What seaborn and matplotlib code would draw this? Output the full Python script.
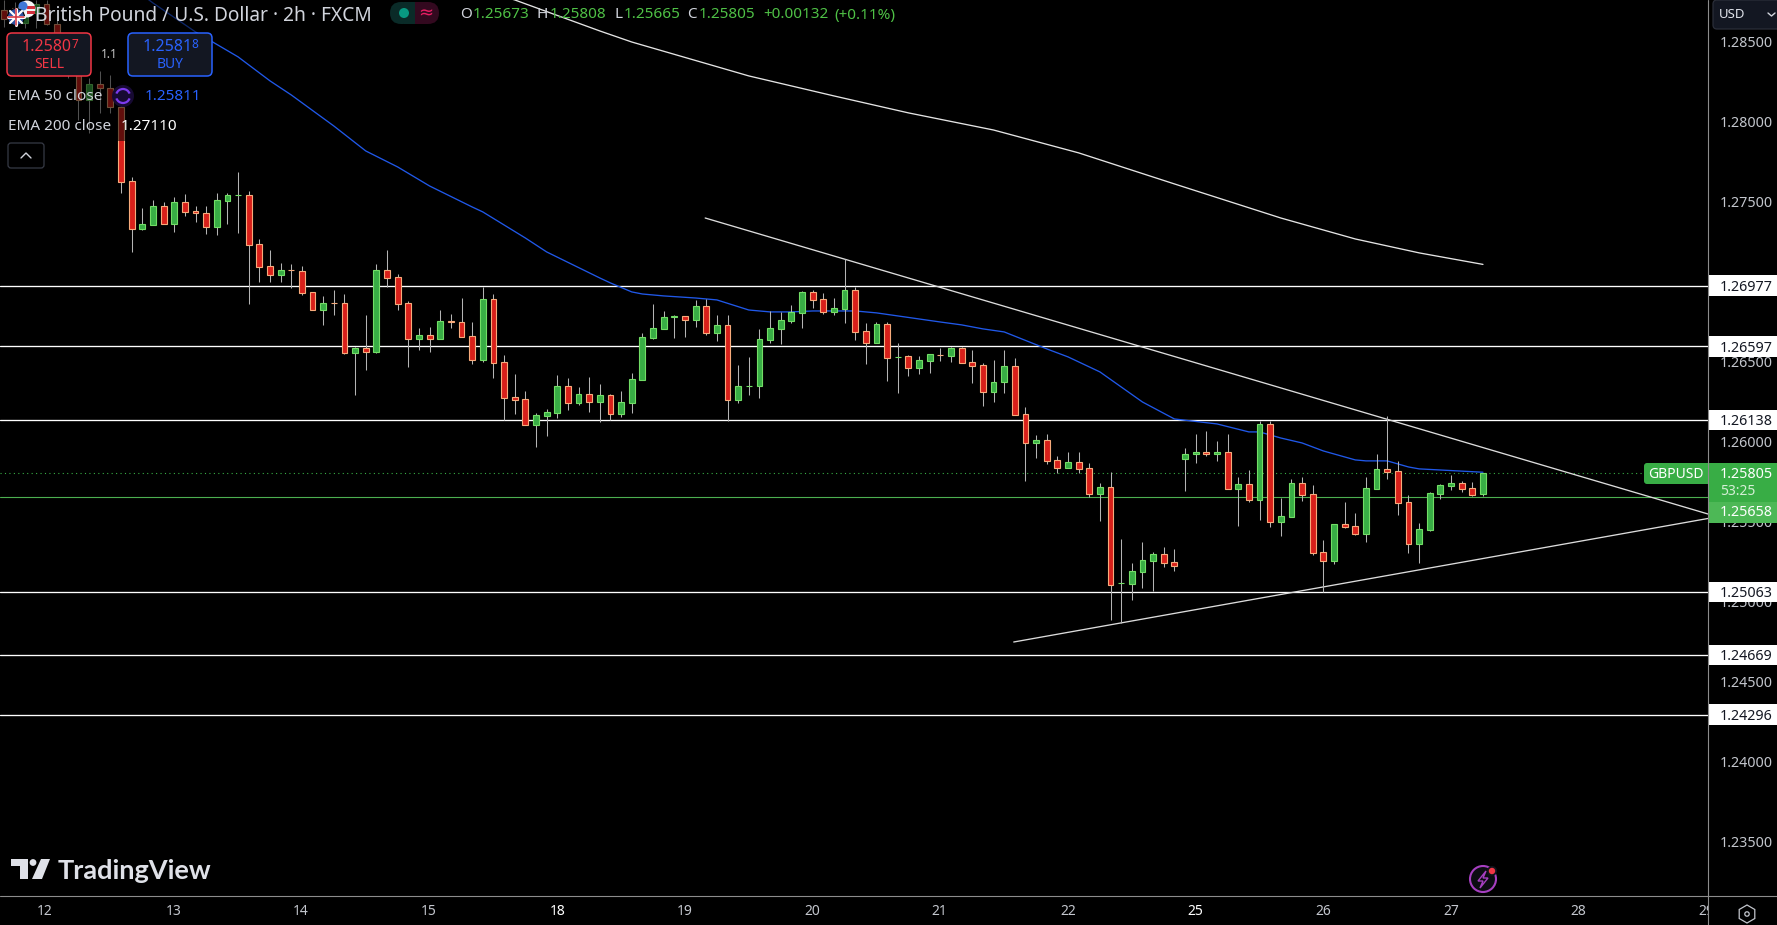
# ==========================================================
# SECTION 1 : IMPORT LIBRARIES
# ==========================================================
import numpy as np
import pandas as pd
import matplotlib
matplotlib.use("Agg")
import matplotlib.pyplot as plt
from matplotlib.patches import Arc, Circle, FancyBboxPatch, Polygon, Rectangle, RegularPolygon
from matplotlib.transforms import blended_transform_factory
import seaborn as sns

# ==========================================================
# SECTION 2 : CHART DATA
# ==========================================================
opens = [1.28700, 1.28713, 1.28619, 1.28682, 1.28738, 1.28613, 1.28482, 1.28294, 1.28138, 1.28238,
         1.28213, 1.28094, 1.27630, 1.27334, 1.27359, 1.27475, 1.27365, 1.27498, 1.27442, 1.27430,
         1.27346, 1.27509, 1.27541, 1.27542, 1.27236, 1.27099, 1.27046, 1.27075, 1.27067, 1.26936,
         1.26827, 1.26868, 1.26867, 1.26559, 1.26586, 1.26565, 1.27074, 1.27030, 1.26867, 1.26646,
         1.26667, 1.26646, 1.26756, 1.26749, 1.26661, 1.26515, 1.26892, 1.26499, 1.26280, 1.26267,
         1.26109, 1.26165, 1.26184, 1.26349, 1.26246, 1.26299, 1.26252, 1.26292, 1.26177, 1.26246,
         1.26390, 1.26652, 1.26709, 1.26784, 1.26786, 1.26765, 1.26849, 1.26684, 1.26730, 1.26265,
         1.26350, 1.26352, 1.26640, 1.26709, 1.26759, 1.26809, 1.26936, 1.26892, 1.26815, 1.26834,
         1.26949, 1.26693, 1.26621, 1.26736, 1.26530, 1.26536, 1.26465, 1.26509, 1.26546, 1.26540,
         1.26586, 1.26499, 1.26480, 1.26315, 1.26372, 1.26474, 1.26174, 1.25996, 1.26011, 1.25886,
         1.25840, 1.25874, 1.25836, 1.25677, 1.25717, 1.25117, 1.25115, 1.25190, 1.25259, 1.25299,
         1.25249, 1.25896, 1.25924, 1.25936, 1.25924, 1.25936, 1.25709, 1.25736, 1.25640, 1.26111,
         1.25502, 1.25534, 1.25742, 1.25674, 1.25311, 1.25259, 1.25486, 1.25474, 1.25427, 1.25709,
         1.25830, 1.25818, 1.25624, 1.25365, 1.25452, 1.25677, 1.25727, 1.25742, 1.25711, 1.25673]

highs = [1.28763, 1.28750, 1.28713, 1.28763, 1.28763, 1.28638, 1.28513, 1.28325, 1.28275, 1.28319,
         1.28294, 1.28113, 1.27655, 1.27461, 1.27513, 1.27500, 1.27534, 1.27550, 1.27475, 1.27475,
         1.27557, 1.27557, 1.27686, 1.27569, 1.27269, 1.27200, 1.27119, 1.27113, 1.27100, 1.26936,
         1.26913, 1.26950, 1.26925, 1.26596, 1.26794, 1.27113, 1.27200, 1.27050, 1.26882, 1.26711,
         1.26717, 1.26825, 1.26800, 1.26900, 1.26749, 1.26969, 1.26925, 1.26544, 1.26425, 1.26319,
         1.26182, 1.26207, 1.26419, 1.26400, 1.26344, 1.26407, 1.26363, 1.26300, 1.26319, 1.26432,
         1.26682, 1.26863, 1.26819, 1.26794, 1.26786, 1.26888, 1.26894, 1.26794, 1.26794, 1.26482,
         1.26532, 1.26707, 1.26819, 1.26813, 1.26857, 1.26944, 1.26950, 1.26932, 1.26900, 1.27142,
         1.26969, 1.26744, 1.26750, 1.26750, 1.26619, 1.26542, 1.26538, 1.26550, 1.26588, 1.26594,
         1.26594, 1.26575, 1.26494, 1.26513, 1.26575, 1.26525, 1.26219, 1.26044, 1.26050, 1.25913,
         1.25938, 1.25938, 1.25869, 1.25744, 1.25813, 1.25394, 1.25244, 1.25375, 1.25313, 1.25344,
         1.25332, 1.25963, 1.26050, 1.26069, 1.26007, 1.26050, 1.25782, 1.25825, 1.26132, 1.26132,
         1.25650, 1.25769, 1.25782, 1.25732, 1.25388, 1.25488, 1.25625, 1.25557, 1.25782, 1.25925,
         1.26163, 1.25882, 1.25669, 1.25494, 1.25688, 1.25738, 1.25794, 1.25757, 1.25750, 1.25808]

lows = [1.28594, 1.28625, 1.28588, 1.28588, 1.28607, 1.28451, 1.28275, 1.28013, 1.27932, 1.28057,
        1.28057, 1.27557, 1.27190, 1.27325, 1.27359, 1.27365, 1.27313, 1.27413, 1.27375, 1.27300,
        1.27294, 1.27363, 1.27307, 1.26863, 1.27000, 1.27000, 1.27000, 1.26963, 1.26919, 1.26827,
        1.26732, 1.26794, 1.26550, 1.26294, 1.26450, 1.26559, 1.26971, 1.26825, 1.26469, 1.26575,
        1.26563, 1.26646, 1.26713, 1.26659, 1.26488, 1.26500, 1.26400, 1.26136, 1.26175, 1.26109,
        1.25969, 1.26038, 1.26150, 1.26200, 1.26232, 1.26188, 1.26125, 1.26136, 1.26159, 1.26182,
        1.26390, 1.26646, 1.26709, 1.26650, 1.26657, 1.26719, 1.26669, 1.26632, 1.26132, 1.26244,
        1.26294, 1.26275, 1.26619, 1.26613, 1.26746, 1.26713, 1.26838, 1.26802, 1.26794, 1.26744,
        1.26638, 1.26488, 1.26621, 1.26382, 1.26307, 1.26413, 1.26425, 1.26432, 1.26507, 1.26500,
        1.26496, 1.26369, 1.26225, 1.26250, 1.26307, 1.26171, 1.25757, 1.25900, 1.25863, 1.25807,
        1.25840, 1.25807, 1.25655, 1.25507, 1.24888, 1.24869, 1.25013, 1.25088, 1.25069, 1.25219,
        1.25194, 1.25694, 1.25869, 1.25913, 1.25882, 1.25709, 1.25475, 1.25625, 1.25513, 1.25469,
        1.25413, 1.25534, 1.25632, 1.25294, 1.25063, 1.25238, 1.25463, 1.25419, 1.25375, 1.25709,
        1.25769, 1.25544, 1.25307, 1.25244, 1.25446, 1.25644, 1.25700, 1.25688, 1.25663, 1.25665]

closes = [1.28644, 1.28675, 1.28669, 1.28738, 1.28613, 1.28482, 1.28294, 1.28138, 1.28238, 1.28213,
          1.28094, 1.27625, 1.27334, 1.27361, 1.27475, 1.27365, 1.27500, 1.27440, 1.27430, 1.27346,
          1.27511, 1.27542, 1.27543, 1.27234, 1.27096, 1.27046, 1.27074, 1.27073, 1.26934, 1.26827,
          1.26867, 1.26866, 1.26559, 1.26588, 1.26565, 1.27074, 1.27027, 1.26865, 1.26646, 1.26667,
          1.26646, 1.26755, 1.26750, 1.26659, 1.26515, 1.26892, 1.26496, 1.26277, 1.26265, 1.26109,
          1.26167, 1.26186, 1.26349, 1.26246, 1.26299, 1.26252, 1.26292, 1.26177, 1.26249, 1.26392,
          1.26655, 1.26711, 1.26780, 1.26786, 1.26765, 1.26849, 1.26684, 1.26730, 1.26265, 1.26349,
          1.26352, 1.26642, 1.26711, 1.26761, 1.26811, 1.26936, 1.26890, 1.26815, 1.26836, 1.26949,
          1.26690, 1.26621, 1.26736, 1.26527, 1.26532, 1.26465, 1.26511, 1.26549, 1.26544, 1.26586,
          1.26496, 1.26477, 1.26315, 1.26374, 1.26474, 1.26171, 1.25996, 1.26011, 1.25884, 1.25840,
          1.25874, 1.25834, 1.25677, 1.25717, 1.25109, 1.25119, 1.25192, 1.25261, 1.25299, 1.25246,
          1.25227, 1.25924, 1.25936, 1.25924, 1.25936, 1.25709, 1.25736, 1.25640, 1.26111, 1.25502,
          1.25536, 1.25742, 1.25671, 1.25309, 1.25259, 1.25486, 1.25471, 1.25427, 1.25711, 1.25830,
          1.25815, 1.25621, 1.25365, 1.25455, 1.25680, 1.25730, 1.25742, 1.25709, 1.25671, 1.25805]

ema50_bars = [13, 14, 18, 22, 25, 27, 31, 34, 37, 40, 44, 45, 49, 51, 56, 57, 59, 60, 62, 65, 67, 70, 72, 74, 76,
              80, 82, 86, 88, 90, 92, 94, 98, 100, 103, 107, 110, 114, 117, 118, 120, 122, 124, 127, 128, 130,
              132, 133, 135, 139]
ema50_vals = [1.28794, 1.28744, 1.28563, 1.28407, 1.28257, 1.28169, 1.27975, 1.27819, 1.27719, 1.27600,
              1.27469, 1.27438, 1.27275, 1.27188, 1.27025, 1.26994, 1.26938, 1.26925, 1.26913, 1.26900,
              1.26888, 1.26825, 1.26813, 1.26813, 1.26819, 1.26819, 1.26807, 1.26769, 1.26750, 1.26732,
              1.26707, 1.26688, 1.26582, 1.26532, 1.26438, 1.26250, 1.26144, 1.26113, 1.26063, 1.26063,
              1.26025, 1.25994, 1.25944, 1.25888, 1.25882, 1.25882, 1.25844, 1.25832, 1.25825, 1.25811]

ema200_bars = [47, 48, 56, 59, 70, 78, 85, 93, 101, 110, 120, 127, 133, 139]
ema200_vals = [1.28782, 1.28763, 1.28569, 1.28500, 1.28288, 1.28163, 1.28057, 1.27950, 1.27807, 1.27613,
               1.27400, 1.27269, 1.27182, 1.27110]

level_prices = [1.26977, 1.26597, 1.26138, 1.25063, 1.24669, 1.24296]
pivot_price = 1.25658
last_price = 1.25805

trend_down_bars = [65.9, 160.15]
trend_down_vals = [1.27400, 1.25550]
trend_up_bars = [94.9, 160.15]
trend_up_vals = [1.24750, 1.25522]

price_ticks = [1.285, 1.280, 1.275, 1.265, 1.260, 1.255, 1.250, 1.245, 1.240, 1.235]
day_bars = [3.8, 15.9, 27.9, 39.9, 52, 64, 76, 87.9, 100, 112, 124, 136, 148, 160]
day_labels = ["12", "13", "14", "15", "18", "19", "20", "21", "22", "25", "26", "27", "28", "29"]

# ==========================================================
# SECTION 3 : COLOURS AND FIGURE
# ==========================================================
GREEN = "#38ad45"
GREEN_EDGE = "#72dd66"
RED = "#d8201a"
RED_EDGE = "#f7ab7c"
WICK = "#b4b4b4"
TEXT = "#d1d4dc"
AXIS_TEXT = "#c3c6cd"
AXIS_LINE = "#8c8c8c"
BLUE = "#2058e8"
PANEL = "#131722"

sns.set_theme(style="dark", rc={"axes.facecolor": "black", "figure.facecolor": "black"})
plt.rcParams["font.family"] = ["Noto Sans", "DejaVu Sans"]

df = pd.DataFrame({"open": opens, "high": highs, "low": lows, "close": closes})
df["bar"] = df.index

fig = plt.figure(figsize=(17.77, 9.25), dpi=100)
ax = fig.add_axes([0, 29 / 925, 1708 / 1777, 896 / 925])
ax.set_xlim(-0.376, 160.15)
ax.set_ylim(1.231625, 1.287625)
for side in ax.spines:
    ax.spines[side].set_visible(False)

# ==========================================================
# SECTION 4 : PRICE LINES AND CANDLES
# ==========================================================
for price in level_prices:
    ax.axhline(price, color="white", lw=0.95, zorder=1)
ax.axhline(pivot_price, color="#4caf50", lw=0.8, zorder=1)
ax.hlines(last_price, -0.376, 154.2, color=GREEN, lw=0.8, linestyles=(0, (1, 3)), zorder=1)

sns.lineplot(x=trend_down_bars, y=trend_down_vals, color="#dcdcdc", lw=0.95, ax=ax, zorder=1.5)
sns.lineplot(x=trend_up_bars, y=trend_up_vals, color="#dcdcdc", lw=0.95, ax=ax, zorder=1.5)
sns.lineplot(x=ema200_bars, y=ema200_vals, color="#e4e4e4", lw=0.95, ax=ax, zorder=1.6)
sns.lineplot(x=ema50_bars, y=ema50_vals, color=BLUE, lw=0.95, ax=ax, zorder=1.6)

ax.vlines(df["bar"], df["low"], df["high"], color=WICK, lw=0.75, zorder=2)
up = df[df["close"] >= df["open"]]
down = df[df["close"] < df["open"]]
ax.bar(up["bar"], up["close"] - up["open"], bottom=up["open"], width=0.55,
       color=GREEN, edgecolor=GREEN_EDGE, linewidth=0.8, zorder=3)
ax.bar(down["bar"], down["open"] - down["close"], bottom=down["close"], width=0.55,
       color=RED, edgecolor=RED_EDGE, linewidth=0.8, zorder=3)

# ==========================================================
# SECTION 5 : AXES
# ==========================================================
ax.yaxis.tick_right()
ax.set_yticks(price_ticks)
ax.set_yticklabels([f"{p:.5f}" for p in price_ticks], color=AXIS_TEXT, fontsize=10.3)
ax.set_xticks(day_bars)
ax.set_xticklabels(day_labels, color=AXIS_TEXT, fontsize=10)
ax.tick_params(axis="y", length=0, pad=8.5)
ax.tick_params(axis="x", length=0, pad=6)
ax.set_xlabel("")
ax.set_ylabel("")
for tick in ax.get_xticklabels():
    if tick.get_text() in ("18", "25"):
        tick.set_fontweight("bold")
        tick.set_color("white")

# white labels of the horizontal levels on the price scale
side = blended_transform_factory(ax.transAxes, ax.transData)
for price in level_prices:
    ax.add_patch(Rectangle((1.0, price - 0.00065), 0.0405, 0.0013, transform=side,
                           facecolor="white", edgecolor="none", clip_on=False, zorder=4))
    ax.text(1.007, price, f"{price:.5f}", transform=side, color="#131722", fontsize=10.3,
            va="center_baseline", ha="left", clip_on=False, zorder=5)

# ==========================================================
# SECTION 6 : OVERLAY IN SCREEN PIXELS (HEADER, BADGES, ICONS)
# ==========================================================
top = fig.add_axes([0, 0, 1, 1], zorder=10)
top.set_xlim(0, 1777)
top.set_ylim(925, 0)
top.axis("off")
top.patch.set_alpha(0)


def label(x, y, s, color=TEXT, size=10, ha="left", weight="normal", family=None):
    return top.text(x, y, s, color=color, fontsize=size, ha=ha, va="center",
                    fontweight=weight, family=family or ["Noto Sans", "DejaVu Sans"])


def box(x, y, w, h, face, edge="none", r=4, lw=1.0):
    top.add_patch(FancyBboxPatch((x + r, y + r), w - 2 * r, h - 2 * r, boxstyle=f"round,pad={r}",
                                 facecolor=face, edgecolor=edge, linewidth=lw))


# dimmed backing behind the legend rows
top.add_patch(Rectangle((0, 0), 132, 141, facecolor="black", alpha=0.55, edgecolor="none"))
top.add_patch(Rectangle((132, 0), 243, 32, facecolor="black", alpha=0.55, edgecolor="none"))

# axis lines
top.plot([1708, 1708], [0, 925], color=AXIS_LINE, lw=0.8)
top.add_patch(Rectangle((1708.6, 896), 69, 29, facecolor="black", edgecolor="none"))
top.plot([0, 1777], [896, 896], color=AXIS_LINE, lw=0.8)

# flags
top.add_patch(Circle((27, 9), 8.5, facecolor="#f4f4f4", edgecolor="none"))
top.add_patch(Rectangle((27, 6), 8, 2.5, facecolor="#d22f3c", edgecolor="none"))
top.add_patch(Rectangle((27, 11), 8, 2.5, facecolor="#d22f3c", edgecolor="none"))
top.add_patch(Circle((23, 6), 4.5, facecolor="#3f78d8", edgecolor="none"))
top.add_patch(Circle((16, 17), 8.5, facecolor="#2a4fa0", edgecolor="black", lw=0.8))
top.plot([10, 22], [11, 23], color="white", lw=1.6)
top.plot([10, 22], [23, 11], color="white", lw=1.6)
top.plot([8, 24], [17, 17], color="white", lw=2.2)
top.plot([16, 16], [9, 25], color="white", lw=2.2)
top.plot([8, 24], [17, 17], color="#d22f3c", lw=1.1)
top.plot([16, 16], [9, 25], color="#d22f3c", lw=1.1)

# header
label(35, 16, "British Pound / U.S. Dollar · 2h · FXCM", size=13.8)
top.add_patch(FancyBboxPatch((401, 2 + 11), 2, 0, boxstyle="round,pad=11", facecolor="#0a2b28", edgecolor="none"))
top.add_patch(FancyBboxPatch((426, 2 + 11), 2, 0, boxstyle="round,pad=11", facecolor="#33091f", edgecolor="none"))
top.add_patch(Rectangle((404, 2), 11, 22, facecolor="#0a2b28", edgecolor="none"))
top.add_patch(Rectangle((415, 2), 11, 22, facecolor="#33091f", edgecolor="none"))
top.add_patch(Circle((404, 13), 5, facecolor="#089981", edgecolor="none"))
label(426, 13, "≈", color="#e91e63", size=13, ha="center", family=["DejaVu Sans"])

VALUE = "#4fc146"
label(460, 15, "O", size=11)
label(473, 15, "1.25673", color=VALUE, size=11)
label(537, 15, "H", size=11)
label(550, 15, "1.25808", color=VALUE, size=11)
label(614, 15, "L", size=11)
label(624, 15, "1.25665", color=VALUE, size=11)
label(687, 15, "C", size=11)
label(699, 15, "1.25805", color=VALUE, size=11)
label(763, 15, "+0.00132", color=VALUE, size=11)
label(834, 15, "(+0.11%)", color=VALUE, size=11)

# sell and buy buttons
box(7, 33, 84, 43, PANEL, "#f23645", r=5, lw=1.1)
box(128, 33, 84, 43, PANEL, "#2962ff", r=5, lw=1.1)
label(22, 47, "1.2580", color="#f23645", size=11.5, weight="bold")
label(71, 45, "7", color="#f23645", size=8.5, weight="bold")
label(49, 64, "SELL", color="#f23645", size=10, ha="center")
label(143, 47, "1.2581", color="#2962ff", size=11.5, weight="bold")
label(191, 45, "8", color="#2962ff", size=8.5, weight="bold")
label(170, 64, "BUY", color="#2962ff", size=10, ha="center")
label(101, 54, "1.1", size=8.5, color="#c8c8c8")

# indicator legend
label(8, 96, "EMA 50 close", size=11)
top.add_patch(Circle((123, 96), 11, facecolor="#170a33", edgecolor="none"))
top.add_patch(Arc((123, 96), 14, 14, theta1=20, theta2=160, color="#7c3aed", lw=1.6))
top.add_patch(Arc((123, 96), 14, 14, theta1=200, theta2=340, color="#7c3aed", lw=1.6))
label(145, 96, "1.25811", color="#2962ff", size=11)
label(8, 126, "EMA 200 close", size=11)
label(121, 126, "1.27110", color="white", size=11, weight="bold")
box(8, 143, 36, 25, "black", "#363a45", r=3, lw=0.9)
top.plot([21, 26, 31], [158, 153, 158], color=TEXT, lw=1.0)

# USD button
box(1713, 0, 70, 29, PANEL, "#2a2e39", r=4, lw=0.9)
label(1719, 14, "USD", color="#e0e3eb", size=9.5)
top.plot([1768, 1771.5, 1775], [13, 16, 13], color=TEXT, lw=1.0)

# last price badges
box(1644, 463, 70, 21, GREEN, r=3)
label(1676, 474, "GBPUSD", color="white", size=10, ha="center", weight="bold")
top.add_patch(Rectangle((1708.6, 463), 69, 39.5, facecolor=GREEN, edgecolor="none"))
top.add_patch(Rectangle((1708.6, 502), 69, 21, facecolor="#4db856", edgecolor="none"))
label(1720, 474, "1.25805", color="white", size=10.3, weight="bold")
label(1720, 491.5, "53:25", color="#d5efd6", size=10)
label(1720, 512.5, "1.25658", color="white", size=10.3, weight="bold")

# TradingView logo
LOGO = "#dfe1e8"
top.add_patch(Polygon([(11, 859), (28, 859), (28, 879), (20, 879), (20, 866), (11, 866)], facecolor=LOGO, edgecolor="none"))
top.add_patch(Circle((33, 862.5), 3.4, facecolor=LOGO, edgecolor="none"))
top.add_patch(Polygon([(41, 859), (50, 859), (42, 879), (32, 879)], facecolor=LOGO, edgecolor="none"))
label(58, 871, "TradingView", color=LOGO, size=19.5, weight="bold", family=["Lato", "DejaVu Sans"])

# alert icon
top.add_patch(Circle((1483, 879), 13, facecolor="#0c0c12", edgecolor="#a63fc0", lw=1.5))
top.add_patch(Polygon([(1486, 871), (1478, 881), (1483, 881), (1480, 888), (1488, 878), (1483, 878)],
                      facecolor="none", edgecolor="#a63fc0", lw=1.0))
top.add_patch(Circle((1492, 871), 5, facecolor="#12141c", edgecolor="none"))
top.add_patch(Circle((1492, 871), 3.2, facecolor="#f23645", edgecolor="none"))

# settings icon
top.add_patch(RegularPolygon((1747, 914), 6, radius=9, orientation=0, facecolor="none", edgecolor="#c3c6cd", lw=0.9))
top.add_patch(Circle((1747, 914), 2.2, facecolor="none", edgecolor="#c3c6cd", lw=0.9))

# ==========================================================
# SECTION 7 : SAVE
# ==========================================================
fig.savefig("out.png", dpi=100, facecolor="black")
